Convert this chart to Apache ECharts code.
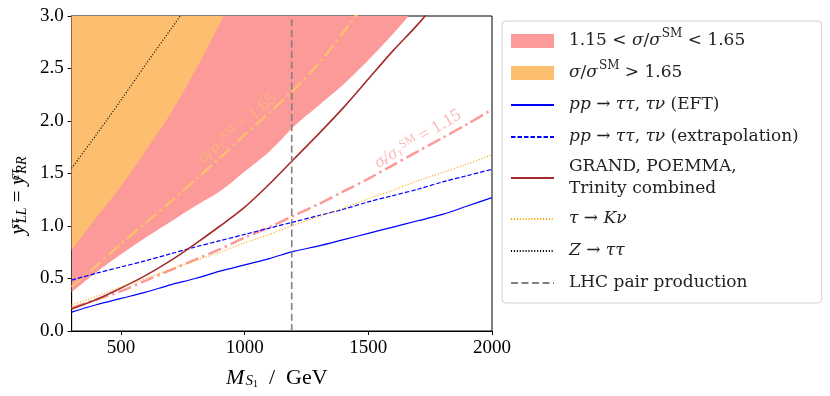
<!DOCTYPE html>
<html>
<head>
<meta charset="utf-8">
<script src="https://cdn.jsdelivr.net/npm/echarts@6/dist/echarts.min.js"></script>
<style>
  html, body { margin: 0; padding: 0; background: #fff; }
  #chart { width: 830px; height: 396px; }
</style>
</head>
<body>
<div id="chart"></div>
<script>
const FONT = "Liberation Serif";
const LEGEND_FONT = "DejaVu Serif";

// mass grid (GeV) shared by the long curves
const massX = [300, 400, 500, 600, 700, 800, 900, 1000, 1100, 1200, 1300, 1400, 1500, 1600, 1700, 1800, 1900, 2000];
const eftY = [0.18, 0.25, 0.31, 0.37, 0.44, 0.50, 0.57, 0.63, 0.69, 0.76, 0.81, 0.87, 0.93, 0.99, 1.05, 1.11, 1.19, 1.27];
const extrapY = [0.485, 0.55, 0.61, 0.67, 0.735, 0.80, 0.86, 0.92, 0.98, 1.04, 1.10, 1.16, 1.23, 1.29, 1.35, 1.42, 1.48, 1.54];
const kNuY = [0.25, 0.33, 0.42, 0.50, 0.59, 0.67, 0.75, 0.84, 0.92, 1.01, 1.09, 1.17, 1.26, 1.34, 1.43, 1.51, 1.59, 1.68];
const ratio115Y = [0.22, 0.30, 0.38, 0.48, 0.58, 0.68, 0.78, 0.89, 0.99, 1.10, 1.21, 1.33, 1.45, 1.58, 1.71, 1.84, 1.97, 2.11];

// shorter curves (they leave the frame at the top)
const grandX = [300, 400, 500, 600, 700, 800, 900, 1000, 1100, 1200, 1300, 1400, 1500, 1600, 1700, 1800];
const grandY = [0.21, 0.30, 0.41, 0.53, 0.67, 0.83, 1.00, 1.18, 1.40, 1.64, 1.88, 2.13, 2.40, 2.67, 2.92, 3.20];
const ratio165X = [300, 400, 500, 600, 700, 800, 900, 1000, 1100, 1200, 1300, 1400, 1500];
const ratio165Y = [0.42, 0.62, 0.83, 1.03, 1.23, 1.44, 1.65, 1.87, 2.08, 2.30, 2.55, 2.85, 3.15];
const pinkLowX = [300, 400, 500, 600, 700, 800, 900, 1000, 1100, 1200, 1300, 1400, 1500, 1600, 1700];
const pinkLowY = [0.37, 0.56, 0.73, 0.89, 1.04, 1.19, 1.33, 1.52, 1.71, 1.95, 2.15, 2.35, 2.58, 2.83, 3.10];
const orangeLowX = [300, 400, 500, 600, 700, 800, 900, 1000];
const orangeLowY = [0.77, 1.08, 1.38, 1.72, 2.07, 2.48, 2.93, 3.40];
const zX = [300, 400, 500, 600, 700, 800];
const zY = [1.55, 1.87, 2.20, 2.54, 2.87, 3.20];
const lhcMass = 1190;

const xTicks = [500, 1000, 1500, 2000];
const yTicks = [0, 0.5, 1.0, 1.5, 2.0, 2.5, 3.0];

const label165 = [970, 1.93];
const label115 = [1700, 1.83];

const names = {
  pink: "pinkband",
  orange: "orangeband",
  eft: "eft",
  extrap: "extrap",
  grand: "grand",
  knu: "knu",
  z: "z",
  lhc: "lhc"
};

const legendText = {
  pinkband: "1.15 < {i|σ}/{i|σ}{sup|SM} < 1.65",
  orangeband: "{i|σ}/{i|σ}{sup|SM} > 1.65",
  eft: "{i|pp} → {i|ττ}, {i|τν} (EFT)",
  extrap: "{i|pp} → {i|ττ}, {i|τν} (extrapolation)",
  grand: "{g|GRAND, POEMMA,}\n{g|Trinity combined}",
  knu: "{i|τ} → {i|Kν}",
  z: "{i|Z} → {i|ττ}",
  lhc: "LHC pair production"
};

const PINK = "#fb9a99";
const ORANGE = "#fdbf6f";

function pairs(xs, ys) {
  return xs.map((x, i) => [x, ys[i]]);
}

function richStyles(size, color, family) {
  const small = Math.round(size * 0.68);
  const f = family || FONT;
  return {
    i: { fontFamily: f, fontSize: size, fontStyle: "italic", color },
    g: { fontFamily: f, fontSize: size, color, lineHeight: 22 },
    sup: { fontFamily: f, fontSize: small, color, verticalAlign: "top", padding: [0, 0, 0, 1] },
    sub: { fontFamily: f, fontSize: small, fontStyle: "italic", color, verticalAlign: "bottom", padding: [0, 0, 0, 1] },
    subz: { fontFamily: f, fontSize: small, fontStyle: "italic", color, verticalAlign: "bottom", width: 0.1, padding: [0, 0, 0, 1] },
    supz: { fontFamily: f, fontSize: small, fontStyle: "italic", color, verticalAlign: "top", width: 0.1, padding: [0, 0, 0, 1] }
  };
}

const chart = echarts.init(document.getElementById("chart"));

function lineSeries(name, data, color, width, type) {
  return {
    name,
    type: "line",
    data,
    symbol: "none",
    smooth: 0.3,
    lineStyle: { color, width, type },
    itemStyle: { color },
    emphasis: { disabled: true },
    silent: true
  };
}

function bandSeries(name, data, color) {
  return {
    name,
    type: "line",
    data,
    symbol: "none",
    smooth: 0.3,
    lineStyle: { width: 0, color },
    itemStyle: { color },
    areaStyle: { color, opacity: 1, origin: "end" },
    emphasis: { disabled: true },
    silent: true
  };
}

function textSeries(pos, text, color, rotate) {
  return {
    type: "scatter",
    data: [pos],
    symbolSize: 0,
    silent: true,
    z: 5,
    label: {
      show: true,
      position: "inside",
      rotate,
      formatter: text,
      fontFamily: FONT,
      fontSize: 18,
      color,
      rich: richStyles(18, color)
    }
  };
}

chart.setOption({
  animation: false,
  backgroundColor: "#fff",
  textStyle: { fontFamily: FONT },
  grid: {
    left: 69, right: 338, top: 16, bottom: 65,
    show: true, borderColor: "#000", borderWidth: 1, backgroundColor: "transparent"
  },
  xAxis: {
    type: "value",
    min: 300,
    max: 2000,
    name: "{i|M}{sub|S}{subs|1}  /  GeV",
    nameLocation: "middle",
    nameGap: 36,
    nameTextStyle: {
      fontFamily: FONT, fontSize: 22, color: "#000",
      padding: [0, 10, 0, 0],
      rich: Object.assign(richStyles(22, "#000"), {
        subs: { fontFamily: FONT, fontSize: 10, color: "#000", verticalAlign: "bottom" }
      })
    },
    axisLine: { lineStyle: { color: "#000", width: 1 } },
    axisTick: { show: true, length: 4, lineStyle: { color: "#000" }, customValues: xTicks },
    axisLabel: {
      fontFamily: FONT, fontSize: 19, color: "#000", margin: 8,
      customValues: xTicks,
      formatter: (v) => String(v)
    },
    splitLine: { show: false }
  },
  yAxis: {
    type: "value",
    min: 0,
    max: 3,
    interval: 0.5,
    name: "{i|y}{supz|sτ}{sub|LL} = {i|y}{supz|cτ}{sub|RR}",
    nameLocation: "middle",
    nameGap: 34,
    nameRotate: 90,
    nameTextStyle: {
      fontFamily: FONT, fontSize: 21, color: "#000",
      padding: [0, 44, 0, 0],
      rich: richStyles(21, "#000")
    },
    axisLine: { show: true, lineStyle: { color: "#000", width: 1 } },
    axisTick: { show: true, length: 4, lineStyle: { color: "#000" }, customValues: yTicks },
    axisLabel: {
      fontFamily: FONT, fontSize: 19, color: "#000", margin: 8,
      customValues: yTicks,
      formatter: (v) => v.toFixed(1)
    },
    splitLine: { show: false }
  },
  legend: {
    orient: "vertical",
    left: 502,
    top: 21,
    padding: [7, 23, 7, 8],
    itemWidth: 43,
    itemHeight: 14,
    itemGap: 6,
    backgroundColor: "#fff",
    borderColor: "#d0d0d0",
    borderWidth: 1,
    borderRadius: 4,
    selectedMode: false,
    itemStyle: { opacity: 0 },
    textStyle: {
      fontFamily: LEGEND_FONT, fontSize: 17, color: "#222",
      lineHeight: 26,
      padding: [0, 0, 0, 10],
      rich: richStyles(17, "#222", LEGEND_FONT)
    },
    formatter: (name) => legendText[name],
    data: [
      { name: names.pink, icon: "rect", itemStyle: { color: PINK, opacity: 1 } },
      { name: names.orange, icon: "rect", itemStyle: { color: ORANGE, opacity: 1 } },
      names.eft, names.extrap, names.grand, names.knu, names.z, names.lhc
    ]
  },
  series: [
    bandSeries(names.pink, pairs(pinkLowX, pinkLowY), PINK),
    bandSeries(names.orange, pairs(orangeLowX, orangeLowY), ORANGE),
    lineSeries("ratio165", pairs(ratio165X, ratio165Y), ORANGE, 2.5, [14, 4, 2.5, 4]),
    lineSeries("ratio115", pairs(massX, ratio115Y), PINK, 2.5, [14, 4, 2.5, 4]),
    lineSeries(names.eft, pairs(massX, eftY), "#0000ff", 1.2, "solid"),
    lineSeries(names.extrap, pairs(massX, extrapY), "#0000ff", 1.2, [4.5, 2]),
    lineSeries(names.grand, pairs(grandX, grandY), "#a52a2a", 1.6, "solid"),
    lineSeries(names.knu, pairs(massX, kNuY), "#ffa500", 1.1, [1.1, 1.8]),
    lineSeries(names.z, pairs(zX, zY), "#000", 1.1, [1.1, 1.8]),
    lineSeries(names.lhc, [[lhcMass, 0], [lhcMass, 3]], "#808080", 1.6, [7, 3.5]),
    textSeries(label165, "{i|σ}{subz|τ}/{i|σ}{sub|τ}{sup|SM} = 1.65", "rgba(253,191,111,0.85)", 41),
    textSeries(label115, "{i|σ}{subz|τ}/{i|σ}{sub|τ}{sup|SM} = 1.15", "rgba(251,154,153,0.85)", 31)
  ]
});
</script>
</body>
</html>
